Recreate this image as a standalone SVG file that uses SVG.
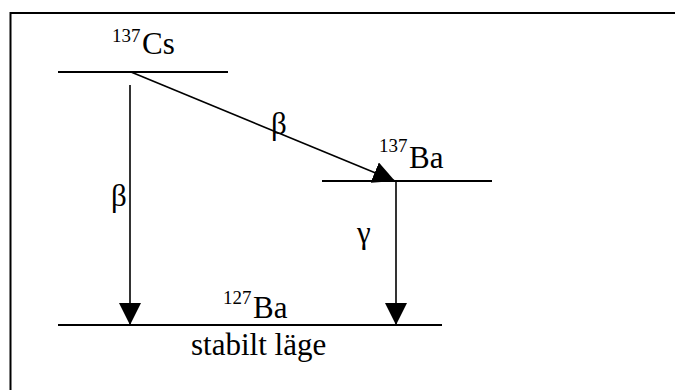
<svg xmlns="http://www.w3.org/2000/svg" width="675" height="390" viewBox="0 0 675 390">
<style>
text{font-family:'Liberation Serif','Times New Roman',serif;fill:#000}
.m{font-size:31px}
.s{font-size:19px}
.lvl{stroke:#000;stroke-width:2;fill:none}
.ar{stroke:#000;stroke-width:1.6;fill:none;marker-end:url(#ah)}
</style>
<defs>
<marker id="ah" markerUnits="userSpaceOnUse" markerWidth="22" markerHeight="22" refX="22" refY="11" orient="auto" viewBox="0 0 22 22">
<path d="M0,0 L22,11 L0,22 Z" fill="#000"/>
</marker>
</defs>
<rect width="675" height="390" fill="#fff"/>
<g id="frame">
<line x1="10.5" y1="13" x2="675" y2="13" stroke="#000" stroke-width="2"/>
<line x1="10.5" y1="12" x2="10.5" y2="390" stroke="#000" stroke-width="2"/>
</g>
<g id="cs137">
<line class="lvl" x1="58" y1="72" x2="228" y2="72"/>
<text class="s" x="112" y="42">137</text>
<text class="m" x="142" y="54">Cs</text>
</g>
<g id="ba137">
<line class="lvl" x1="322" y1="181" x2="492" y2="181"/>
<text class="s" x="379" y="152">137</text>
<text class="m" x="409" y="168">Ba</text>
</g>
<g id="ba127">
<line class="lvl" x1="58" y1="325" x2="442" y2="325"/>
<text class="s" x="223" y="304">127</text>
<text class="m" x="253" y="318">Ba</text>
<text class="m" x="191" y="355">stabilt läge</text>
</g>
<g id="connectors">
<line class="ar" x1="130" y1="85" x2="130" y2="325"/>
<line class="ar" x1="131" y1="72" x2="395" y2="181"/>
<line class="ar" x1="396" y1="181" x2="396" y2="325"/>
<text class="m" x="111" y="206">β</text>
<text class="m" x="271" y="134">β</text>
<text class="m" x="357" y="243">γ</text>
</g>
</svg>
